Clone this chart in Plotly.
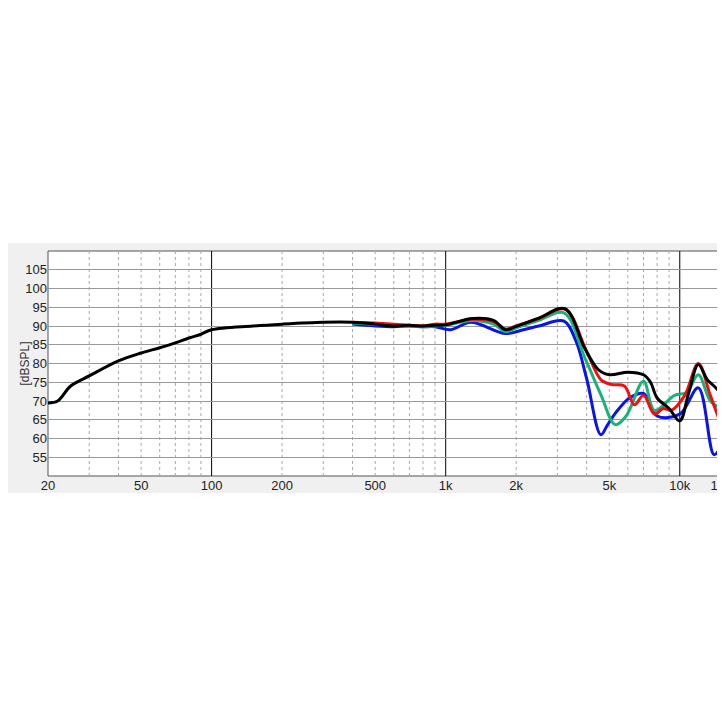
import plotly.graph_objects as go

# frequency response data (Hz, dBSPL)
black_f = [20, 22, 25, 30, 40, 50, 60, 70, 80, 90, 100, 150, 200, 300, 400, 500, 600, 700, 800, 900,
           1000, 1300, 1600, 1800, 2000, 2500, 3230, 3930, 4480, 5000, 6000, 7000, 7500, 8000, 9000,
           10000, 10900, 12000, 13100, 14000, 15000]
black_db = [69.5, 70, 74, 76.7, 80.7, 82.8, 84.2, 85.5, 86.8, 87.8, 89, 90, 90.5, 91, 91, 90.5, 90, 90.2, 90, 90.2,
            90.3, 92, 91.5, 89, 89.9, 92.1, 94.6, 84, 78.4, 77, 77.7, 77, 75, 70.8, 68,
            64.7, 72, 79.7, 75.7, 74, 72]

red_f = [400, 500, 600, 700, 800, 900, 1000, 1300, 1600, 1800, 2000, 2500, 3230, 4000, 4600, 5100, 5800,
         6400, 7000, 7800, 8500, 9200, 10500, 12000, 13500, 15000]
red_db = [91, 90.8, 90.5, 90.2, 90, 90.5, 90.5, 91.8, 91.2, 89.2, 90, 92, 94.5, 83.2, 75.7, 74.4, 74,
          69, 71.5, 66.5, 68, 67.5, 71.5, 80, 71.5, 63.7]

green_f = [400, 500, 600, 700, 800, 900, 1000, 1300, 1600, 1800, 2000, 2500, 3200, 3930, 4600, 5300, 5900,
           7000, 7800, 9500, 10700, 12000, 13500, 15000]
green_db = [90.8, 90.5, 90.2, 90, 89.8, 90, 90.2, 91.5, 90.5, 88.5, 89.5, 91.5, 93.5, 81.5, 71.7, 63.7, 66,
            75.3, 67.5, 71.5, 72.3, 77, 70, 68]

blue_f = [400, 500, 600, 700, 800, 900, 1050, 1280, 1800, 2150, 2500, 3200, 3600, 4000, 4600, 4900, 5300,
          6100, 7000, 8000, 10000, 12000, 14000, 15000]
blue_db = [90.5, 90, 89.8, 90, 89.8, 89.8, 89, 91, 88, 89, 90, 91.3, 86, 76, 61, 63.5, 66.7,
           70.8, 72, 66, 66.5, 73.5, 55.7, 58]

tick_vals = [20, 50, 100, 200, 500, 1000, 2000, 5000, 10000, 15000]
tick_text = ["20", "50", "100", "200", "500", "1k", "2k", "5k", "10k", "15k"]
major_lines = [100, 1000, 10000]
minor_lines = [30, 40, 50, 60, 70, 80, 90, 200, 300, 400, 500, 600, 700, 800, 900,
               2000, 3000, 4000, 5000, 6000, 7000, 8000, 9000]

fig = go.Figure()
for f, db, col in [(blue_f, blue_db, "#0a14e6"), (green_f, green_db, "#19b27a"),
                   (red_f, red_db, "#ee1111"), (black_f, black_db, "#000000")]:
    fig.add_trace(go.Scatter(x=f, y=db, mode="lines", line=dict(color=col, width=3, shape="spline"),
                             showlegend=False))

shapes = [dict(type="rect", xref="paper", yref="paper", x0=-40/673, x1=1+12/673, y0=-0.076, y1=1.036,
               fillcolor="#f0f0f0", line_width=0, layer="below"),
          dict(type="rect", xref="paper", yref="paper", x0=0, x1=1, y0=0, y1=1,
               fillcolor="white", line=dict(color="#555", width=1), layer="below")]
for v in minor_lines:
    shapes.append(dict(type="line", xref="x", yref="paper", x0=v, x1=v, y0=0, y1=1,
                       line=dict(color="#aaaaaa", width=1, dash="dot"), layer="below"))
for v in major_lines:
    shapes.append(dict(type="line", xref="x", yref="paper", x0=v, x1=v, y0=0, y1=1,
                       line=dict(color="#000000", width=1), layer="below"))
fig.update_layout(shapes=shapes)

fig.add_annotation(text="[dBSPL]", xref="paper", yref="paper", x=-33/673, y=0.5, textangle=-90,
                   showarrow=False, font=dict(size=12, color="#333"))

fig.update_xaxes(type="log", range=[1.30103, 4.17609], tickvals=tick_vals, ticktext=tick_text,
                 showgrid=False, zeroline=False, ticks="", automargin=False,
                 tickfont=dict(family="Arial, Liberation Sans", size=13, color="#222"))
fig.update_yaxes(range=[50, 110], tickvals=list(range(55, 110, 5)), showgrid=True, gridcolor="#999999",
                 gridwidth=1, zeroline=False, ticks="", automargin=False,
                 tickfont=dict(family="Arial, Liberation Sans", size=13, color="#222"))
fig.update_layout(width=725, height=725, margin=dict(l=40, r=12, t=243, b=257),
                  paper_bgcolor="white", plot_bgcolor="rgba(0,0,0,0)",
                  font=dict(family="Arial, Liberation Sans"))
fig.write_html("out.html")
